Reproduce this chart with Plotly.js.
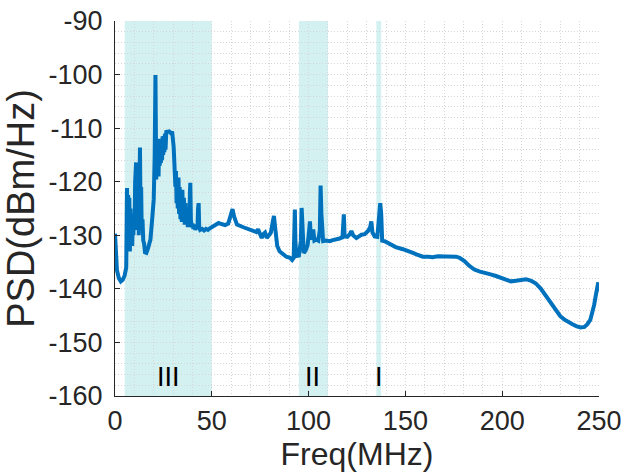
<!DOCTYPE html>
<html>
<head>
<meta charset="utf-8">
<script src="https://cdn.plot.ly/plotly-3.0.1.min.js"></script>
<style>html,body{margin:0;padding:0;background:#fff;}#chart{width:626px;height:474px;}</style>
</head>
<body>
<div id="chart"></div>
<script>
// Frequency (MHz)
var freq = [0,0.5,1,2,3,4,5,5.8,6.0,6.2,6.5,6.8,7.1,7.4,7.7,8.0,8.3,8.6,8.9,9.2,9.5,9.8,10.1,10.4,10.7,10.9,11.1,11.4,11.7,12.0,12.3,12.6,12.9,13.2,13.5,13.8,14.2,14.6,15.0,15.5,16.2,17,18.3,19.2,20,20.5,20.9,21.3,21.6,21.9,22.2,22.5,22.8,23.1,23.4,23.7,24.0,24.3,24.6,24.9,25.2,25.5,25.8,26.1,26.5,27,28,29,29.5,30.3,30.8,31.2,31.5,31.8,32.1,32.4,32.8,33.1,33.4,33.8,34.1,34.5,34.8,35.2,35.6,36.0,36.4,36.8,37.2,37.6,38.0,38.4,38.7,38.9,39.2,39.6,40,40.5,41,41.5,42,42.6,42.9,43.2,43.5,44,45,46,47,48,49,50,
50.7,53.5,55,56.9,58.5,59.8,60.7,61.5,63,66.3,69,71.5,73,73.9,74.8,75.8,76.6,77.5,78.4,79.2,80.5,81.5,82.1,82.7,83.8,85,86.9,88.5,90.4,91.5,92.3,92.7,92.9,93.2,93.6,95,96,96.4,96.8,97.5,98.5,99.5,100.3,100.7,101.2,102,102.4,103,104,105,105.8,106.2,106.6,107.5,109,110.9,112.5,114.4,116,117.5,117.9,118.2,118.6,120,121.3,122.1,123,124.7,126,127.3,129,130.7,131.8,132.4,133,134.1,135.5,136.5,137,137.5,138,139.3,141.9,145,148.7,151,153.9,156,159,162,164,166.7,169,172,174,176.2,178,180.5,183,185.6,188.5,191.7,194,196.8,199.5,202,204.5,207.1,209.5,212.3,215,217.4,220,222.6,225,227.7,230,232,234,236.3,238.5,240.6,242.5,244,245.5,246.6,247.5,248.3,249,249.6,250];
// PSD (dBm/Hz)
var psd = [-129.7,-134,-136.5,-138,-138.6,-138.3,-137.5,-136,-128,-121.2,-131,-122.5,-132.5,-123,-133,-125,-131.5,-126,-132,-127,-130,-126,-129,-120,-117,-116.4,-127,-121,-129,-122,-130,-114,-113.6,-126,-121,-129,-127,-131,-131.5,-133.2,-133.3,-132.5,-130.8,-127,-123.3,-115,-100.1,-119.6,-112,-118,-113,-119,-112,-117,-112.5,-116.5,-112,-116,-111.5,-115,-111.5,-114.5,-111,-114,-110.7,-110.6,-110.6,-111,-110.6,-113.5,-117,-120.9,-118,-124,-119.5,-125,-119.2,-126,-121,-127,-122,-127.5,-121.5,-127,-123,-128,-124,-128,-125.5,-128.5,-126,-128,-122,-120.2,-127,-128.5,-127.8,-128.8,-128,-129,-128.3,-128.8,-125,-124,-128.5,-129,-128.8,-129.1,-128.8,-129,-128.7,-128.5,
-128.3,-127.7,-127.9,-128.1,-127.8,-126.5,-125.1,-126.5,-128,-128.5,-128.9,-129.2,-129.4,-128.9,-129.8,-130.5,-129.8,-129.5,-130.5,-130.2,-129.5,-127.5,-126.4,-128.5,-132,-133,-133.6,-134,-134.2,-134.6,-134.2,-129,-125.2,-131,-133.9,-133.8,-131,-124.9,-130,-133.3,-132.8,-131.8,-129,-127.4,-130.8,-130,-128.9,-131,-130.8,-131,-129,-120.7,-126,-131.1,-131,-131.1,-130.9,-130.8,-130.6,-130.4,-127,-126.1,-130.2,-130.3,-129.8,-129.2,-130,-130.5,-130.2,-129.9,-129.8,-129.2,-128.5,-127.4,-129.5,-130.2,-130.3,-127,-124,-126,-131,-131.1,-131.6,-132.2,-132.6,-133,-133.3,-133.6,-134,-134,-134.1,-133.9,-133.9,-134,-133.9,-134,-134.2,-134.8,-135.7,-136.4,-136.8,-137,-137.3,-137.6,-138,-138.4,-138.6,-138.5,-138.3,-138.2,-138.5,-139,-140,-141.3,-142.7,-144.1,-145.1,-145.7,-146.2,-146.6,-147,-147.2,-147.1,-146.6,-145.8,-144.4,-143,-141.3,-140,-138.8,-140.5];
// Shaded bands
var bandStart = [5, 95, 135];
var bandEnd = [50, 110, 137.5];
var bandLabels = ['III', 'II', 'I'];
var labelX = [27.4, 102.2, 136.2];
var labelY = -156.5;
var xTicks = [0, 50, 100, 150, 200, 250];
var yTicks = [-160, -150, -140, -130, -120, -110, -100, -90];

var FONT = 'Liberation Sans, Arial, Helvetica, sans-serif';
var AX = '#262626';

var shapes = bandStart.map(function (s, i) {
  return {type: 'rect', xref: 'x', yref: 'paper', x0: s, x1: bandEnd[i], y0: 0, y1: 1,
          fillcolor: '#d4f1f1', line: {width: 0}, layer: 'below'};
});
var annotations = bandLabels.map(function (t, i) {
  return {text: t, x: labelX[i], y: labelY, xref: 'x', yref: 'y', showarrow: false,
          font: {family: FONT, size: 27, color: '#000'}};
});

var trace = {x: freq, y: psd, type: 'scatter', mode: 'lines',
             line: {color: '#0072BD', width: 4}, hoverinfo: 'skip'};

var layout = {
  width: 626, height: 474,
  margin: {l: 114.5, r: 26.7, t: 21, b: 78, pad: 0},
  paper_bgcolor: '#fff', plot_bgcolor: '#fff',
  showlegend: false,
  font: {family: FONT, color: AX},
  shapes: shapes,
  annotations: annotations,
  xaxis: {
    range: [0, 250], tickvals: xTicks, ticktext: xTicks.map(String),
    ticks: 'inside', ticklen: 5, tickcolor: AX, tickwidth: 1,
    showline: true, linecolor: AX, linewidth: 1, mirror: false, zeroline: false,
    showgrid: true, gridcolor: '#d6d6d6', griddash: '1px,2px', gridwidth: 1,
    minor: {dtick: 10, tick0: 0, showgrid: true, gridcolor: '#d6d6d6', griddash: '1px,2px', gridwidth: 1},
    tickfont: {family: FONT, size: 27, color: AX},
    ticklabelstandoff: 1,
    title: {text: 'Freq(MHz)', font: {family: FONT, size: 32, color: AX}, standoff: 2}
  },
  yaxis: {
    range: [-160, -90], tickvals: yTicks, ticktext: yTicks.map(String),
    ticks: 'inside', ticklen: 5, tickcolor: AX, tickwidth: 1,
    showline: true, linecolor: AX, linewidth: 1, mirror: false, zeroline: false,
    showgrid: true, gridcolor: '#d6d6d6', griddash: '1px,2px', gridwidth: 1,
    minor: {dtick: 2, tick0: -160, showgrid: true, gridcolor: '#d6d6d6', griddash: '1px,2px', gridwidth: 1},
    tickfont: {family: FONT, size: 27, color: AX},
    ticklabelstandoff: 6,
    title: {text: 'PSD(dBm/Hz)', font: {family: FONT, size: 38, color: AX}, standoff: 5}
  }
};

Plotly.newPlot('chart', [trace], layout, {displayModeBar: false, staticPlot: true});
</script>
</body>
</html>
